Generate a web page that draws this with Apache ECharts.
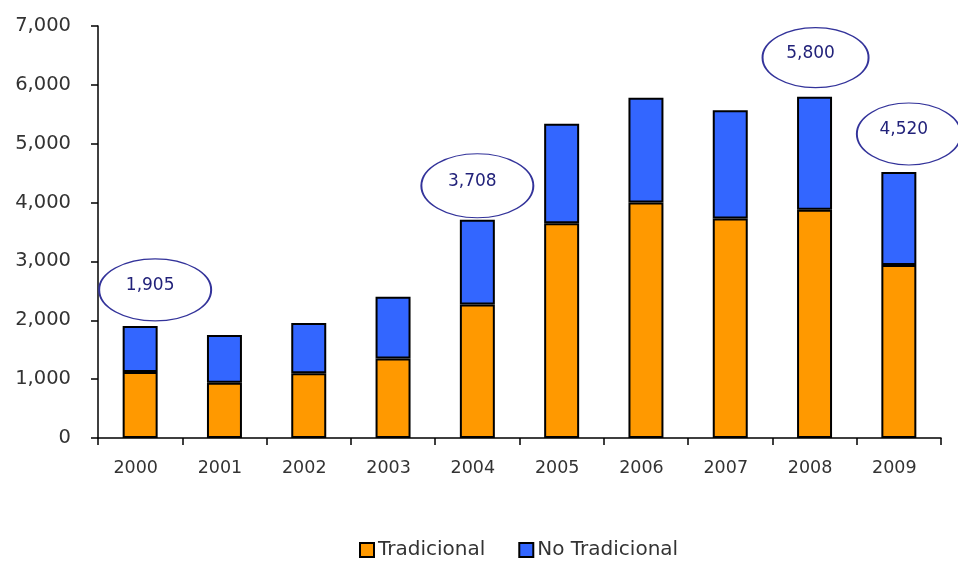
<!DOCTYPE html>
<html>
<head>
<meta charset="utf-8">
<script src="https://cdn.jsdelivr.net/npm/echarts@6/dist/echarts.min.js"></script>
<style>
html,body{margin:0;padding:0;background:#fff;}
#chart{width:958px;height:562px;}
</style>
</head>
<body>
<div id="chart"></div>
<script>
var years = ['2000','2001','2002','2003','2004','2005','2006','2007','2008','2009'];
var tradicional = [1120, 940, 1100, 1350, 2270, 3650, 4000, 3730, 3880, 2940];
var noTradicional = [785, 810, 855, 1050, 1438, 1690, 1780, 1840, 1920, 1580];
var annotatedYears = ['2000', '2004', '2008', '2009'];
var annotatedTotals = [1905, 3708, 5800, 4520];
var yTicks = [0, 1000, 2000, 3000, 4000, 5000, 6000, 7000];

var fmt = function (v) { return Number(v).toLocaleString('en-US'); };
var FONT = 'DejaVu Sans, Verdana, sans-serif';

// visual offsets of the ellipse callouts (style only)
var calloutStyle = {
  '2000': { off: [15, -36], size: [112, 62] },
  '2004': { off: [0, -34], size: [112, 64] },
  '2008': { off: [1, -39], size: [106, 60] },
  '2009': { off: [10, -38], size: [104, 62] }
};

var ellipseData = annotatedYears.map(function (y, i) {
  var s = calloutStyle[y];
  return { value: [y, annotatedTotals[i]], symbolOffset: s.off, symbolSize: s.size };
});

var chart = echarts.init(document.getElementById('chart'));
chart.setOption({
  animation: false,
  backgroundColor: '#ffffff',
  grid: { left: 98, right: 17, top: 26, bottom: 124 },
  legend: {
    data: ['Tradicional', 'No Tradicional'],
    left: 359, top: 540, padding: 0,
    icon: 'rect', itemWidth: 14, itemHeight: 14, itemGap: 33,
    textStyle: { fontFamily: FONT, fontSize: 20, color: '#333', padding: [0, 0, 0, -1] }
  },
  xAxis: {
    type: 'category',
    data: years,
    axisLine: { lineStyle: { color: '#000', width: 1.5 } },
    axisTick: { show: true, length: 7, inside: false, alignWithLabel: false, lineStyle: { color: '#000', width: 1.5 } },
    axisLabel: { margin: 21, fontFamily: FONT, fontSize: 17.5, color: '#333', padding: [0, 9, 0, 0] },
    splitLine: { show: false }
  },
  yAxis: {
    type: 'value',
    min: yTicks[0], max: yTicks[yTicks.length - 1], interval: 1000,
    axisLine: { show: true, lineStyle: { color: '#000', width: 1.5 } },
    axisTick: { show: true, length: 7, lineStyle: { color: '#000', width: 1.5 } },
    axisLabel: { margin: 27, fontFamily: FONT, fontSize: 19.5, color: '#333', formatter: fmt },
    splitLine: { show: false }
  },
  series: [
    {
      name: 'Tradicional', type: 'bar', stack: 'total', data: tradicional,
      barWidth: '41.5%',
      itemStyle: { color: '#FF9900', borderColor: '#000', borderWidth: 2 }
    },
    {
      name: 'No Tradicional', type: 'bar', stack: 'total', data: noTradicional,
      barWidth: '41.5%',
      itemStyle: { color: '#3366FF', borderColor: '#000', borderWidth: 2 }
    },
    {
      name: 'Total', type: 'scatter', data: ellipseData,
      symbol: 'circle', z: 10,
      itemStyle: { color: 'rgba(255,255,255,0)', borderColor: '#33339A', borderWidth: 1.5, opacity: 1 },
      label: {
        show: true, position: 'inside', offset: [-5, -4], fontFamily: FONT, fontSize: 17, color: '#22227A',
        formatter: function (p) { return fmt(p.value[1]); }
      },
      emphasis: { disabled: true },
      tooltip: { show: false }
    }
  ]
});
</script>
</body>
</html>
